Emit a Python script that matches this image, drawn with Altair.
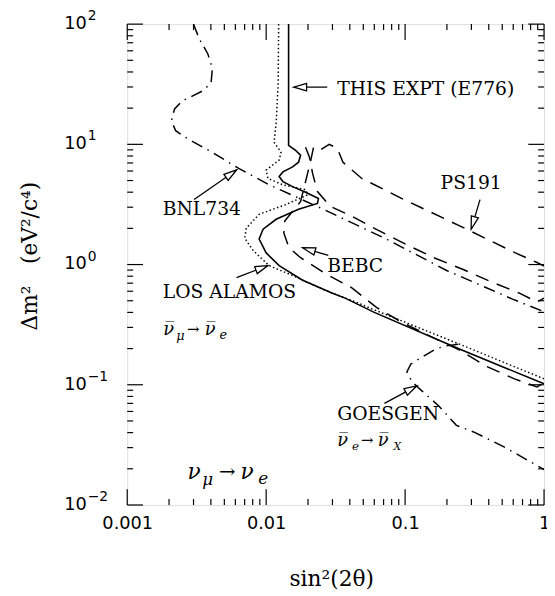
import math
import altair as alt
import pandas as pd

W, H = 423, 488

# ---------------- data ----------------
# THIS EXPT (E776), solid
e776_x = [0.0145, 0.0145, 0.0163, 0.0177, 0.0171, 0.0155, 0.0132, 0.0124, 0.0132, 0.0155,
          0.0192, 0.0238, 0.0234, 0.0171, 0.0118, 0.0095, 0.0089, 0.0100, 0.0124, 0.0183,
          0.030, 0.037, 0.060, 0.241, 1.0]
e776_y = [100, 9.8, 8.9, 8.1, 7.1, 6.5, 5.9, 5.4, 4.9, 4.45,
          4.0, 3.54, 3.22, 2.88, 2.38, 1.97, 1.63, 1.25, 0.98, 0.74,
          0.578, 0.526, 0.40, 0.20, 0.102]

# LOS ALAMOS, dotted
lampf_x = [0.0123, 0.0122, 0.0118, 0.0114, 0.0128, 0.0124, 0.0100, 0.0103, 0.0132, 0.0192,
           0.0199, 0.0139, 0.0089, 0.0072, 0.0070, 0.0081, 0.0105, 0.0155, 0.0267, 0.0457,
           0.060, 0.241, 1.0]
lampf_y = [100, 32, 15.1, 10.4, 8.6, 7.4, 6.1, 5.2, 4.6, 4.2,
           3.8, 3.16, 2.62, 2.01, 1.66, 1.30, 0.98, 0.81, 0.61, 0.48,
           0.42, 0.22, 0.112]

# BEBC, dashed
bebc_x = [0.0219, 0.0208, 0.0177, 0.0136, 0.0134, 0.0146, 0.0177, 0.0267, 0.0414, 0.0622,
          0.0953, 0.155, 0.241, 0.382, 0.612, 0.89, 1.0]
bebc_y = [9.4, 7.1, 3.35, 2.3, 1.83, 1.38, 1.14, 0.84, 0.64, 0.44,
          0.33, 0.25, 0.197, 0.143, 0.112, 0.096, 0.104]

# second dashed curve (unlabelled)
dash2_x = [0.0192, 0.0205, 0.0216, 0.0234, 0.0289, 0.0414, 0.0632, 0.103, 0.161, 0.262,
           0.407, 0.665, 0.891, 1.0]
dash2_y = [9.45, 7.8, 5.7, 4.05, 3.05, 2.52, 1.94, 1.46, 1.14, 0.91,
           0.726, 0.578, 0.489, 0.526]

# PS191, dashed
ps191_x = [0.0249, 0.0284, 0.0325, 0.0357, 0.0488, 0.0984, 0.249, 0.622, 0.89, 1.0]
ps191_y = [9.1, 10.0, 9.3, 7.1, 5.2, 3.47, 2.09, 1.25, 1.04, 0.97]

# BNL734, dash-dot
bnl_x = [0.00300, 0.00330, 0.00380, 0.00410, 0.00401, 0.00346, 0.00294, 0.00249, 0.00219, 0.00208,
         0.00223, 0.00258, 0.00303, 0.00407, 0.00644, 0.0105, 0.0267, 0.0733, 0.199, 0.593, 1.0]
bnl_y = [100, 75.4, 56.7, 42.8, 32.2, 27.7, 25.2, 23.0, 19.7, 15.7,
         13.0, 11.6, 10.4, 8.6, 6.24, 4.61, 2.83, 1.63, 0.893, 0.516, 0.405]

# GOESGEN, dash-dot
goes_x = [0.241, 0.189, 0.161, 0.136, 0.110, 0.103, 0.112, 0.132, 0.174, 0.234, 0.319, 0.528, 1.0]
goes_y = [0.217, 0.209, 0.194, 0.173, 0.149, 0.128, 0.106, 0.089, 0.067, 0.046, 0.040, 0.030, 0.0197]

# axis ticks / labels
x_label_vals = [0.001, 0.01, 0.1, 1]
y_label_vals = [100, 10, 1, 0.1, 0.01]
y_label_exps = ["2", "1", "0", "\u22121", "\u22122"]
x_major = [0.001, 0.01, 0.1, 1]
y_major = [0.01, 0.1, 1, 10, 100]
x_minor = [m * d for d in [0.001, 0.01, 0.1] for m in range(2, 10)]
y_minor = [m * d for d in [0.01, 0.1, 1, 10] for m in range(2, 10)]

# annotations: text (left, baseline) in data coords
ann_text = ["THIS EXPT (E776)", "BNL734", "LOS ALAMOS", "BEBC", "PS191", "GOESGEN"]
ann_x = [0.0325, 0.0018, 0.0018, 0.0275, 0.18, 0.0325]
ann_y = [25.7, 2.57, 0.526, 0.86, 4.27, 0.0507]

# arrows: start -> tip
arr_x1 = [0.0275, 0.00303, 0.00612, 0.028, 0.346, 0.071]
arr_y1 = [29.9, 3.47, 0.78, 1.19, 3.47, 0.070]
arr_x2 = [0.0158, 0.00612, 0.0103, 0.0183, 0.299, 0.1216]
arr_y2 = [29.9, 6.12, 0.98, 1.38, 1.97, 0.098]

# ---------------- chart ----------------
xsc = alt.Scale(type="log", domain=[0.001, 1], nice=False)
ysc = alt.Scale(type="log", domain=[0.01, 100], nice=False)

xaxis = alt.Axis(values=x_label_vals, format="~g", labelFont="DejaVu Sans", labelFontSize=18,
                 labelColor="black", labelPadding=10, ticks=False, tickSize=0, domain=False,
                 grid=False, labelOverlap=False, labelFlush=False,
                 title="sin\u00b2(2\u03b8)", titleFont="DejaVu Serif", titleFontSize=22,
                 titleFontWeight="normal", titleColor="black", titleX=207, titleY=82,
                 titleAlign="center", titleBaseline="alphabetic")
yaxis = alt.Axis(labels=False, ticks=False, tickSize=0, domain=False, grid=False,
                 title="\u0394m\u00b2\u2003(eV\u00b2/c\u2074)", titleFont="DejaVu Serif",
                 titleFontSize=22, titleFontWeight="normal", titleColor="black",
                 titleX=-99, titleY=235, titleAngle=270, titleAlign="center",
                 titleBaseline="middle")

X = lambda f="x": alt.X(f + ":Q", scale=xsc, axis=xaxis)
Y = lambda f="y": alt.Y(f + ":Q", scale=ysc, axis=yaxis)


def curve(xs, ys, dash=None, width=1.5):
    df = pd.DataFrame({"x": xs, "y": ys, "o": list(range(len(xs)))})
    kw = dict(color="black", strokeWidth=width, clip=True)
    if dash:
        kw["strokeDash"] = dash
    return alt.Chart(df).mark_line(**kw).encode(x=X(), y=Y(), order="o:Q")


layers = [
    curve(e776_x, e776_y, None, 1.6),
    curve(lampf_x, lampf_y, [1.5, 2.5], 1.5),
    curve(bebc_x, bebc_y, [14, 9], 1.5),
    curve(dash2_x, dash2_y, [14, 9], 1.5),
    curve(ps191_x, ps191_y, [14, 9], 1.5),
    curve(bnl_x, bnl_y, [12, 6, 1.5, 6], 1.5),
    curve(goes_x, goes_y, [12, 6, 1.5, 6], 1.5),
]

# tick marks (inward)
MAJ, MIN = 16, 6
for vals, ln in [(x_major, MAJ), (x_minor, MIN)]:
    d = pd.DataFrame({"x": vals})
    layers.append(alt.Chart(d).mark_rule(color="black", strokeWidth=1.2).encode(
        x=X(), y=alt.value(H), y2=alt.value(H - ln)))
    layers.append(alt.Chart(d).mark_rule(color="black", strokeWidth=1.2).encode(
        x=X(), y=alt.value(0), y2=alt.value(ln)))
for vals, ln in [(y_major, MAJ), (y_minor, MIN)]:
    d = pd.DataFrame({"y": vals})
    layers.append(alt.Chart(d).mark_rule(color="black", strokeWidth=1.2).encode(
        y=Y(), x=alt.value(0), x2=alt.value(ln)))
    layers.append(alt.Chart(d).mark_rule(color="black", strokeWidth=1.2).encode(
        y=Y(), x=alt.value(W), x2=alt.value(W - ln)))

# y tick labels 10^n
ylab = pd.DataFrame({"y": y_label_vals, "e": y_label_exps, "b": ["10"] * len(y_label_vals)})
layers.append(alt.Chart(ylab).mark_text(align="right", baseline="middle", font="DejaVu Sans",
                                        fontSize=18, color="black").encode(
    y=Y(), x=alt.value(-41), text="b:N"))
layers.append(alt.Chart(ylab).mark_text(align="left", baseline="middle", font="DejaVu Sans",
                                        fontSize=14, color="black", dy=-8).encode(
    y=Y(), x=alt.value(-40), text="e:N"))

# annotation texts
ann = pd.DataFrame({"x": ann_x, "y": ann_y, "t": ann_text})
layers.append(alt.Chart(ann).mark_text(align="left", baseline="alphabetic", font="DejaVu Serif",
                                       fontSize=19, color="black").encode(
    x=X(), y=Y(), text="t:N"))

# arrows
def px(v):
    return (math.log10(v) + 3) / 3 * W


def py(v):
    return (2 - math.log10(v)) / 4 * H


angles = []
for a, b, c, d in zip(arr_x1, arr_y1, arr_x2, arr_y2):
    ang = math.degrees(math.atan2(py(d) - py(b), px(c) - px(a))) % 360
    angles.append(ang)
arr = pd.DataFrame({"x": arr_x1, "y": arr_y1, "x2": arr_x2, "y2": arr_y2, "ang": angles})
layers.append(alt.Chart(arr).mark_rule(color="black", strokeWidth=1.3).encode(
    x=X(), y=Y(), x2="x2:Q", y2="y2:Q"))
layers.append(alt.Chart(arr).mark_point(shape="M0,0L-2.6,-0.75L-2.6,0.75Z", size=100, filled=True,
                                        fill="white", stroke="black", strokeWidth=1.3,
                                        opacity=1).encode(
    x=X("x2"), y=Y("y2"), angle=alt.Angle("ang:Q", scale=None)))


# reaction labels built from pieces: (text, dx, dy, size)
def reaction(ax, ay, pieces):
    out = []
    for t, dx, dy, sz in pieces:
        d = pd.DataFrame({"x": [ax], "y": [ay], "t": [t]})
        out.append(alt.Chart(d).mark_text(align="left", baseline="alphabetic", font="DejaVu Serif",
                                          fontStyle="italic", fontSize=sz, dx=dx, dy=dy,
                                          color="black").encode(x=X(), y=Y(), text="t:N"))
    return out

NUB = "\u03bd\u0305"
layers += reaction(0.00182, 0.26, [(NUB, 0, 0, 18), ("\u03bc", 13, 5, 13), ("\u2192", 24, -1, 15),
                                   (NUB, 42, 0, 18), ("e", 57, 4, 13)])
layers += reaction(0.0325, 0.031, [(NUB, 0, 0, 18), ("e", 15, 4, 12), ("\u2192", 24, -1, 15),
                                   (NUB, 41, 0, 18), ("X", 57, 4, 11)])
layers += reaction(0.00271, 0.0165, [("\u03bd", 0, 0, 22), ("\u03bc", 15, 6, 17), ("\u2192", 32, -1, 20),
                                     ("\u03bd", 54, 0, 22), ("e", 72, 5, 17)])

chart = alt.layer(*layers).properties(
    width=W, height=H, autosize="none",
    padding={"left": 121, "top": 12, "right": 3, "bottom": 88},
).configure_view(stroke="black", strokeWidth=1.6).configure(background="white")

chart.save("out.html", embed_options={"renderer": "svg", "actions": False})
